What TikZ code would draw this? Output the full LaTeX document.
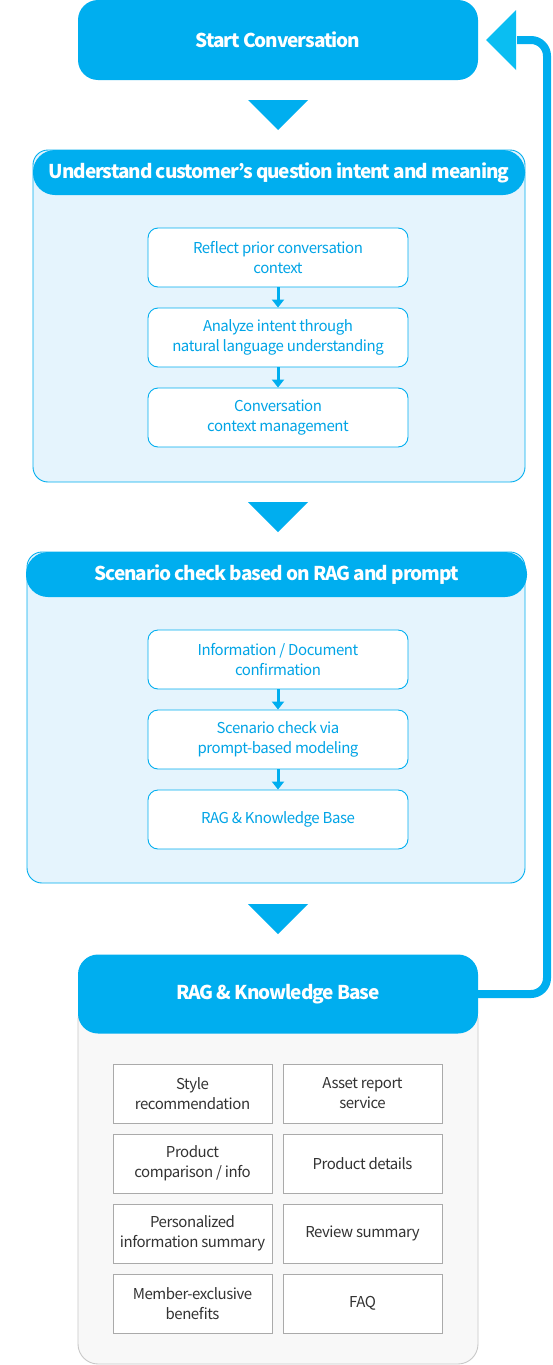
\documentclass[tikz,border=0pt]{standalone}
\usepackage{fontspec}
\setmainfont{Noto Sans CJK KR}[LetterSpace=-3]
\newfontfamily\headfont{Noto Sans CJK KR}[LetterSpace=-5.5]
\usetikzlibrary{arrows.meta}
\definecolor{mainblue}{RGB}{0,174,239}
\definecolor{tipblue}{RGB}{10,190,242}
\definecolor{lightbody}{RGB}{229,244,253}
\definecolor{txtblue}{RGB}{0,164,230}
\definecolor{graybody}{RGB}{248,248,248}
\definecolor{grayline}{RGB}{200,200,200}
\definecolor{cellline}{RGB}{170,170,170}
\definecolor{txtdark}{RGB}{51,51,51}
\tikzset{
  startbox/.style={fill=mainblue, rounded corners=20pt, minimum width=400pt, minimum height=80pt, inner sep=0pt, text=white, font=\headfont\bfseries\fontsize{19}{23}\selectfont},
  secbody/.style={fill=lightbody, draw=mainblue, line width=0.9pt, rounded corners=15pt, inner sep=0pt},
  sechead/.style={fill=mainblue, rounded corners=22pt, minimum height=45pt, inner sep=0pt, text=white, font=\headfont\bfseries\fontsize{19}{23}\selectfont},
  stepbox/.style={fill=white, draw=mainblue, line width=0.9pt, rounded corners=10pt, minimum width=260pt, minimum height=59pt, inner sep=0pt, text=txtblue, align=center, font=\fontsize{15}{20}\selectfont},
  smallarr/.style={draw=mainblue, line width=3pt, -{Triangle[length=8pt,width=12pt]}},
  downtri/.style={fill=mainblue},
  raghead/.style={fill=mainblue, rounded corners=20pt, minimum width=400pt, minimum height=79pt, inner sep=0pt, text=white, font=\headfont\bfseries\fontsize{19}{23}\selectfont},
  ragbody/.style={fill=graybody, draw=grayline, line width=0.9pt, rounded corners=20pt, minimum width=400pt, minimum height=364pt, inner sep=0pt},
  cell/.style={fill=white, draw=cellline, line width=0.9pt, minimum width=159pt, minimum height=59pt, inner sep=0pt, text=txtdark, align=center, font=\fontsize{15}{20}\selectfont},
  loopline/.style={draw=mainblue, line width=8pt, rounded corners=16pt},
}
\begin{document}
\begin{tikzpicture}[x=1pt,y=-1pt]
\useasboundingbox (0,0) rectangle (552,1365);
\fill[white] (0,0) rectangle (552,1365);

% start
\node[startbox] (start) at (278,40) {Start Conversation};
\fill[downtri] (248,100) -- (308,100) -- (278,130) -- cycle;

% section 1
\node[secbody, minimum width=492pt, minimum height=332pt] (s1body) at (279,316) {};
\node[sechead, minimum width=492pt] (s1head) at (279,172.5) {Understand customer’s question intent and meaning};
\node[stepbox] (a1) at (278,257.5) {Reflect prior conversation\\context};
\node[stepbox] (a2) at (278,337.5) {Analyze intent through\\natural language understanding};
\node[stepbox] (a3) at (278,417.5) {Conversation\\context management};
\draw[smallarr] (a1.south) -- (a2.north);
\draw[smallarr] (a2.south) -- (a3.north);
\fill[downtri] (248,502) -- (308,502) -- (278,532) -- cycle;

% section 2
\node[secbody, minimum width=498pt, minimum height=331pt] (s2body) at (276,717.5) {};
\node[sechead, minimum width=501pt] (s2head) at (276.5,574.5) {Scenario check based on RAG and prompt};
\node[stepbox] (b1) at (278,659.5) {Information / Document\\confirmation};
\node[stepbox] (b2) at (278,739.5) {Scenario check via\\prompt-based modeling};
\node[stepbox] (b3) at (278,819.5) {RAG \& Knowledge Base};
\draw[smallarr] (b1.south) -- (b2.north);
\draw[smallarr] (b2.south) -- (b3.north);
\fill[downtri] (248,904) -- (308,904) -- (278,934) -- cycle;

% section 3
\node[ragbody] (ragbody) at (278,1182) {};
\node[raghead] (rag) at (278,994) {RAG \& Knowledge Base};
\node[cell] (c11) at (192.5,1093.5) {Style\\recommendation};
\node[cell] (c12) at (362.5,1093.5) {Asset report\\service};
\node[cell] (c21) at (192.5,1163.5) {Product\\comparison / info};
\node[cell] (c22) at (362.5,1163.5) {Product details};
\node[cell] (c31) at (192.5,1233.5) {Personalized\\information summary};
\node[cell] (c32) at (362.5,1233.5) {Review summary};
\node[cell] (c41) at (192.5,1303.5) {Member-exclusive\\benefits};
\node[cell] (c42) at (362.5,1303.5) {FAQ};

% loop back
\coordinate (loopend) at (486,40);
\draw[loopline] (rag.east) -- (547,994) -- (547,40) -- (517,40);
\fill[tipblue] (loopend) -- (516,10) -- (516,70) -- cycle;
\end{tikzpicture}
\end{document}
